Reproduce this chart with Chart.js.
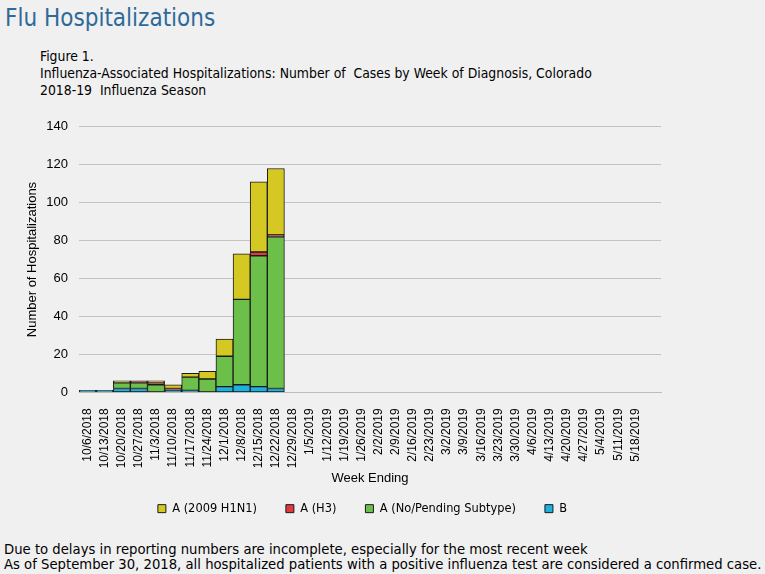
<!DOCTYPE html>
<html>
<head>
<meta charset="utf-8">
<script src="https://cdn.jsdelivr.net/npm/chart.js@4.4.1/dist/chart.umd.min.js"></script>
<style>
  html, body { margin: 0; padding: 0; background: #f0f0f0; }
  body { width: 765px; height: 574px; position: relative; overflow: hidden; }
  .narrow { font-family: "DejaVu Sans Condensed", sans-serif; color: #000; }
  #titulo { position: absolute; left: 5px; top: 4px; font-size: 24px; color: #2d6a9a; }
  #figura { position: absolute; left: 40px; top: 48px; font-size: 13.85px; line-height: 17px; }
  #notas { position: absolute; left: 4px; top: 541px; font-size: 14.7px; line-height: 15px; white-space: nowrap; }
  #caja { position: absolute; left: 0; top: 108px; width: 765px; height: 417px; }
</style>
</head>
<body>
<div id="titulo" class="narrow">Flu Hospitalizations</div>
<div id="figura" class="narrow">Figure 1.<br>Influenza-Associated Hospitalizations: Number of&nbsp; Cases by Week of Diagnosis, Colorado<br>2018-19&nbsp; Influenza Season</div>
<div id="caja"><canvas id="fluChart"></canvas></div>
<div id="notas" class="narrow">Due to delays in reporting numbers are incomplete, especially for the most recent week<br>As of September 30, 2018, all hospitalized patients with a positive influenza test are considered a confirmed case.</div>

<script>
// Semanas (fin de semana) de la temporada 2018-19
const semanas = ['10/6/2018', '10/13/2018', '10/20/2018', '10/27/2018', '11/3/2018', '11/10/2018',
    '11/17/2018', '11/24/2018', '12/1/2018', '12/8/2018', '12/15/2018', '12/22/2018', '12/29/2018',
    '1/5/2019', '1/12/2019', '1/19/2019', '1/26/2019', '2/2/2019', '2/9/2019', '2/16/2019',
    '2/23/2019', '3/2/2019', '3/9/2019', '3/16/2019', '3/23/2019', '3/30/2019', '4/6/2019',
    '4/13/2019', '4/20/2019', '4/27/2019', '5/4/2019', '5/11/2019', '5/18/2019', ''];

// Casos por subtipo (null = semana sin datos todavía)
const casosB      = [1, 1, 2, 2, 0, 1, 1, 0, 3, 4, 3, 2, null, null, null, null, null, null, null, null, null, null, null, null, null, null, null, null, null, null, null, null, null, null];
const casosNoSub  = [0, 0, 3, 3, 4, 0, 7, 7, 16, 45, 69, 80, null, null, null, null, null, null, null, null, null, null, null, null, null, null, null, null, null, null, null, null, null, null];
const casosH3     = [0, 0, 0, 1, 1, 1, 0, 0, 0, 0, 2, 1, null, null, null, null, null, null, null, null, null, null, null, null, null, null, null, null, null, null, null, null, null, null];
const casosH1N1   = [0, 0, 1, 0, 1, 2, 2, 4, 9, 24, 37, 35, null, null, null, null, null, null, null, null, null, null, null, null, null, null, null, null, null, null, null, null, null, null];

const ticksY = [0, 20, 40, 60, 80, 100, 120, 140];

function serie(label, data, color) {
    return {
        label: label,
        data: data,
        backgroundColor: color,
        borderColor: '#1a1a1a',
        borderWidth: 1,
        borderSkipped: false,
        categoryPercentage: 1.0,
        barPercentage: 1.0
    };
}

const fuente = '"Liberation Sans", Arial, sans-serif';

// La leyenda del original va un poco más a la derecha que el centro del área
const moverLeyenda = {
    id: 'moverLeyenda',
    afterLayout(chart) {
        chart.legend.left += 21;
        chart.legend.right += 21;
    }
};

const ctx = document.getElementById('fluChart').getContext('2d');
const fluChart = new Chart(ctx, {
    type: 'bar',
    data: {
        labels: semanas,
        datasets: [
            // orden de apilado: B abajo, H1N1 arriba
            serie('B', casosB, '#1ab2e0'),
            serie('A (No/Pending Subtype)', casosNoSub, '#6cc04a'),
            serie('A (H3)', casosH3, '#e0393e'),
            serie('A (2009 H1N1)', casosH1N1, '#d6c823')
        ]
    },
    plugins: [moverLeyenda],
    options: {
        responsive: true,
        maintainAspectRatio: false,
        animation: false,
        layout: { padding: { left: 22, right: 104, top: 17, bottom: 0 } },
        plugins: {
            legend: {
                position: 'bottom',
                reverse: true,
                labels: {
                    boxWidth: 8,
                    boxHeight: 8,
                    padding: 29,
                    color: '#000',
                    font: { family: '"DejaVu Sans Condensed", sans-serif', size: 12.7 }
                }
            },
            tooltip: { enabled: false }
        },
        scales: {
            x: {
                stacked: true,
                afterFit: axis => { axis.height = 81; },  // alto fijo para etiquetas + título
                grid: { display: false },
                border: { color: '#bdbdbd' },
                ticks: {
                    autoSkip: false,
                    minRotation: 90,
                    maxRotation: 90,
                    padding: 8,
                    color: '#000',
                    font: { family: fuente, size: 12 }
                },
                title: {
                    display: true,
                    text: 'Week Ending',
                    color: '#000',
                    padding: { top: 0, bottom: -13 },
                    font: { family: fuente, size: 13 }
                }
            },
            y: {
                stacked: true,
                min: 0,
                max: 140,
                afterFit: axis => { axis.width = 57; },
                afterBuildTicks: axis => { axis.ticks = ticksY.map(v => ({ value: v })); },
                grid: { color: '#c3c3c3', drawTicks: false },
                border: { display: false },
                ticks: {
                    padding: 11,
                    color: '#000',
                    font: { family: fuente, size: 13 }
                },
                title: {
                    display: true,
                    text: 'Number of Hospitalizations',
                    color: '#000',
                    padding: { top: 3, bottom: 0 },
                    font: { family: fuente, size: 13 }
                }
            }
        }
    }
});
</script>
</body>
</html>
